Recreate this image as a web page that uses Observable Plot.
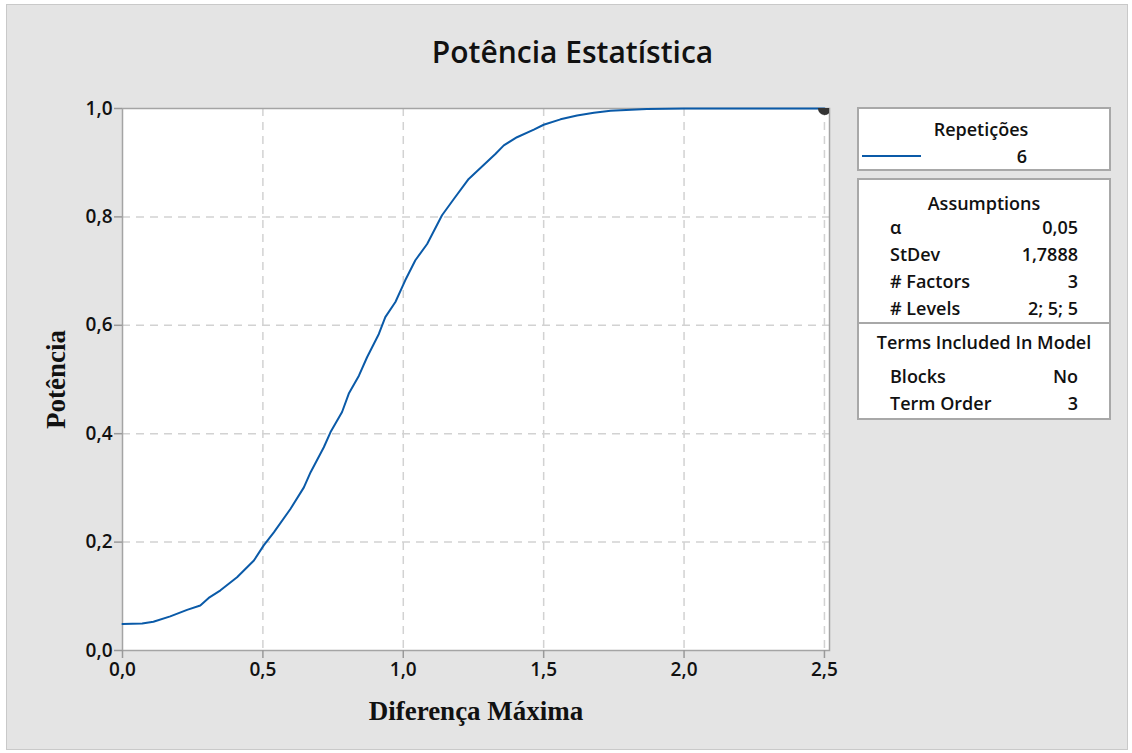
<!DOCTYPE html>
<html>
<head>
<meta charset="utf-8">
<script src="https://cdn.jsdelivr.net/npm/d3@7"></script>
<script src="https://cdn.jsdelivr.net/npm/@observablehq/plot@0.6"></script>
<style>
  body { margin: 0; background: #ffffff; }
  #wrap { position: relative; width: 1132px; height: 753px; overflow: hidden; }
  #bg { position: absolute; left: 6px; top: 4px; width: 1120px; height: 744px; background: #e4e4e4; border: 1px solid #c9c9c9; }
  #title { position: absolute; left: 0; top: 37px; width: 1145px; text-align: center; font-family: "Open Sans", "Noto Sans", sans-serif; font-size: 30px; font-weight: 600; line-height: 1; color: #111; }
  #chart { position: absolute; left: 0; top: 0; }
  .box { position: absolute; left: 857px; width: 254px; background: #fff; border: 2px solid #a8a8a8; font-family: "Open Sans", "Noto Sans", sans-serif; font-size: 18px; font-weight: 600; line-height: 1; color: #111; box-sizing: border-box; }
  .t { position: absolute; white-space: nowrap; }
</style>
</head>
<body>
<div id="wrap">
  <div id="bg"></div>
  <div id="title">Potência Estatística</div>
  <div id="chart"></div>
  <div id="legend1" class="box" style="top:107px;height:64px;"></div>
  <div id="legend2" class="box" style="top:178px;height:242px;"></div>
</div>
<script>
// Power curve: x = maximum difference, y = power
const diff = [0, 0.07, 0.11, 0.17, 0.23, 0.277, 0.307, 0.349, 0.408, 0.468, 0.503, 0.539, 0.598, 0.646, 0.670, 0.717, 0.741, 0.782, 0.806, 0.842, 0.871, 0.913, 0.936, 0.972, 1.007, 1.043, 1.085, 1.138, 1.180, 1.233, 1.328, 1.358, 1.405, 1.465, 1.500, 1.560, 1.619, 1.679, 1.738, 1.868, 2.0, 2.25, 2.5];
const power = [0.049, 0.050, 0.053, 0.063, 0.075, 0.083, 0.097, 0.111, 0.135, 0.166, 0.194, 0.218, 0.261, 0.301, 0.329, 0.375, 0.403, 0.440, 0.474, 0.507, 0.541, 0.584, 0.615, 0.643, 0.683, 0.720, 0.750, 0.803, 0.833, 0.870, 0.916, 0.932, 0.947, 0.961, 0.970, 0.980, 0.987, 0.992, 0.996, 0.999, 1.0, 1.0, 1.0];
const targetPoint = [{x: 2.5, y: 1.0}];
const xTicks = [0, 0.5, 1.0, 1.5, 2.0, 2.5];
const yTicks = [0, 0.2, 0.4, 0.6, 0.8, 1.0];
const xTitle = "Diferença Máxima";
const yTitle = "Potência";

const legendTitle = "Repetições";
const legendSeries = ["6"];
const assumptionsTitle = "Assumptions";
const assumptionLabels = ["α", "StDev", "# Factors", "# Levels"];
const assumptionValues = ["0,05", "1,7888", "3", "2; 5; 5"];
const termsTitle = "Terms Included In Model";
const termLabels = ["Blocks", "Term Order"];
const termValues = ["No", "3"];

const curve = diff.map((d, i) => ({x: d, y: power[i]}));
const fmt = d => d.toFixed(1).replace(".", ",");
const lineColor = "#0a5aa8";

const chart = Plot.plot({
  width: 1132,
  height: 753,
  marginLeft: 122,
  marginRight: 303,
  marginTop: 108,
  marginBottom: 103,
  style: {background: "transparent", fontFamily: "'Open Sans', 'Noto Sans', sans-serif", fontSize: "19px", fontWeight: 600, color: "#111"},
  x: {domain: [0, 2.518]},
  y: {domain: [0, 1]},
  marks: [
    Plot.frame({fill: "white", stroke: null}),
    Plot.gridX([0.5, 1.0, 1.5, 2.0, 2.5], {stroke: "#d2d2d2", strokeOpacity: 1, strokeWidth: 1.5, strokeDasharray: "8,6"}),
    Plot.gridY([0.2, 0.4, 0.6, 0.8], {stroke: "#d2d2d2", strokeOpacity: 1, strokeWidth: 1.5, strokeDasharray: "8,6"}),
    Plot.frame({stroke: "#a4a4a4", strokeWidth: 1.5}),
    Plot.axisX({ticks: xTicks, tickFormat: fmt, tickSize: 8, tickPadding: 4, stroke: "#999", strokeWidth: 1.5, label: null, fill: "#111"}),
    Plot.axisY({ticks: yTicks, tickFormat: fmt, tickSize: 8, tickPadding: 2, stroke: "#999", strokeWidth: 1.5, label: null, fill: "#111"}),
    Plot.line(curve, {x: "x", y: "y", stroke: lineColor, strokeWidth: 2}),
    Plot.dot(targetPoint, {x: "x", y: "y", r: 6.5, fill: "#333", stroke: "none", clip: true}),
    Plot.text([xTitle], {frameAnchor: "bottom", lineAnchor: "middle", dy: 61, text: d => d, fontFamily: "'Liberation Serif', 'Times New Roman', serif", fontWeight: "bold", fontSize: 27, fill: "#111"}),
    Plot.text([yTitle], {frameAnchor: "left", textAnchor: "middle", lineAnchor: "middle", dx: -66, rotate: -90, text: d => d, fontFamily: "'Liberation Serif', 'Times New Roman', serif", fontWeight: "bold", fontSize: 27, fill: "#111"})
  ]
});
document.getElementById("chart").appendChild(chart);

// Legend boxes: baseline ≈ top + 0.89·fontSize (line-height 1)
const FS = 18, BL = Math.round(0.89 * FS);
function addText(box, txt, pos, baseline, align) {
  const el = document.createElement("div");
  el.className = "t";
  el.textContent = txt;
  el.style.top = (baseline - BL) + "px";
  if (align === "center") { el.style.left = pos + "px"; el.style.width = "100%"; el.style.textAlign = "center"; }
  else if (align === "right") { el.style.right = pos + "px"; }
  else { el.style.left = pos + "px"; }
  box.appendChild(el);
}
const l1 = document.getElementById("legend1");
addText(l1, legendTitle, -3, 27, "center");
legendSeries.forEach((s, i) => {
  addText(l1, s, 38, 54 + i * 24, "center");
  const ln = document.createElement("div");
  ln.style.cssText = `position:absolute;left:3px;top:${46 + i * 24}px;width:59px;height:2px;background:${lineColor};`;
  l1.appendChild(ln);
});

const l2 = document.getElementById("legend2");
addText(l2, assumptionsTitle, 0, 30, "center");
assumptionLabels.forEach((s, i) => {
  addText(l2, s, 31, 54 + i * 27, "left");
  addText(l2, assumptionValues[i], 31, 54 + i * 27, "right");
});
const div = document.createElement("div");
div.style.cssText = "position:absolute;left:0;top:142px;width:100%;height:1.5px;background:#a8a8a8;";
l2.appendChild(div);
addText(l2, termsTitle, 0, 169, "center");
termLabels.forEach((s, i) => {
  addText(l2, s, 31, 203 + i * 26.5, "left");
  addText(l2, termValues[i], 31, 203 + i * 26.5, "right");
});
</script>
</body>
</html>
